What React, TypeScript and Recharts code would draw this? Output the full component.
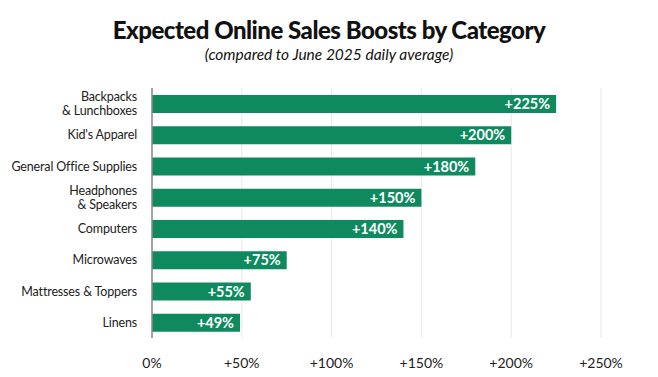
import React from 'react';
import { BarChart, Bar, XAxis, YAxis, CartesianGrid, LabelList } from 'recharts';

const categories = [
  'Backpacks\n& Lunchboxes',
  "Kid's Apparel",
  'General Office Supplies',
  'Headphones\n& Speakers',
  'Computers',
  'Microwaves',
  'Mattresses & Toppers',
  'Linens',
];
const boosts = [225, 200, 180, 150, 140, 75, 55, 49];
const xTicks = [0, 50, 100, 150, 200, 250];

const GREEN = '#0F8A5F';
const FONT = 'Lato, "Open Sans", sans-serif';

const data = categories.map((name, i) => ({ name, value: boosts[i] }));

const CategoryTick = ({ x, y, payload }: any) => {
  const lines = String(payload.value).split('\n');
  const lh = 14.5;
  const start = y - ((lines.length - 1) * lh) / 2;
  return (
    <text x={x - 7} textAnchor="end" fill="#222" fontSize={12.5} letterSpacing={-0.15} fontFamily={FONT}>
      {lines.map((l: string, i: number) => (
        <tspan key={i} x={x - 7} y={start + i * lh} dy="0.35em">{l}</tspan>
      ))}
    </text>
  );
};

const PercentTick = ({ x, y, payload }: any) => (
  <text x={x} y={y + 22} textAnchor="middle" fill="#222" fontSize={14} fontFamily={FONT}>
    {payload.value === 0 ? '0%' : `+${payload.value}%`}
  </text>
);

const ValueLabel = ({ x, y, width, height, value }: any) => (
  <text
    x={x + width - 6}
    y={y + height / 2}
    dy="0.36em"
    textAnchor="end"
    fill="#fff"
    fontSize={14.5}
    fontWeight={700}
    fontFamily={FONT}
  >
    {`+${value}%`}
  </text>
);

export default function App() {
  return (
    <div style={{ position: 'absolute', left: 0, top: 0, width: 658, height: 377, background: '#fff', fontFamily: FONT }}>
      <div style={{ position: 'absolute', top: 18, width: 658, textAlign: 'center', fontSize: 24, lineHeight: '24px', fontWeight: 900, color: '#111', letterSpacing: -0.5 }}>
        Expected Online Sales Boosts by Category
      </div>
      <div style={{ position: 'absolute', top: 46, width: 658, textAlign: 'center', fontSize: 15.5, lineHeight: '16px', fontStyle: 'italic', color: '#111' }}>
        (compared to June 2025 daily average)
      </div>
      <div style={{ position: 'absolute', left: 0, top: 0 }}>
        <BarChart
          width={658}
          height={377}
          data={data}
          layout="vertical"
          margin={{ top: 88, right: 57, bottom: 0, left: 0 }}
          barSize={18}
        >
          <CartesianGrid horizontal={false} stroke="#e8e8e8" strokeWidth={1} />
          <XAxis
            type="number"
            domain={[0, 250]}
            ticks={xTicks}
            axisLine={false}
            tickLine={false}
            height={39}
            tick={<PercentTick />}
          />
          <YAxis
            type="category"
            dataKey="name"
            width={152}
            axisLine={{ stroke: '#8a8a8a', strokeWidth: 1.5 }}
            tickLine={false}
            interval={0}
            tick={<CategoryTick />}
          />
          <Bar dataKey="value" fill={GREEN} isAnimationActive={false}>
            <LabelList dataKey="value" content={<ValueLabel />} />
          </Bar>
        </BarChart>
      </div>
    </div>
  );
}
